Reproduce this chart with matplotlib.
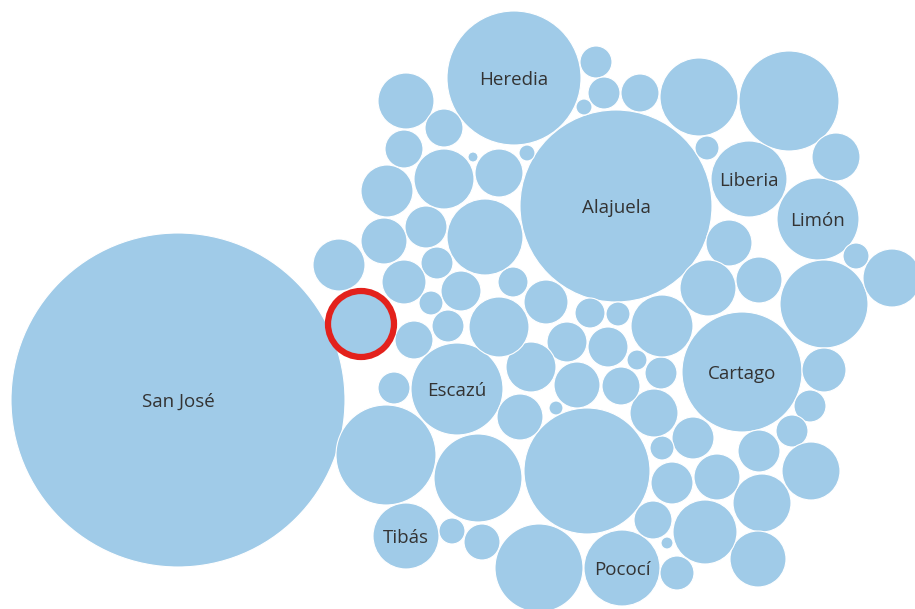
import matplotlib.pyplot as plt
from matplotlib.patches import Circle

# bubble centres and radii, with labels
names = ["San José", "Heredia", "Alajuela", "Cartago", "Liberia", "Limón",
         "Escazú", "Tibás", "Pococí"]
cx = [178, 514, 616, 742, 749, 818, 457, 406, 622,
      587, 699, 789, 836, 824, 892, 856, 824, 810, 792, 811, 759, 762, 758,
      705, 677, 667, 653, 717, 672, 693, 662, 654, 661, 637, 621, 662, 608,
      618, 590, 567, 577, 546, 531, 499, 513, 520, 556, 478, 539, 482, 452,
      386, 394, 414, 448, 461, 431, 437, 404, 384, 339, 361, 485, 426, 387,
      444, 404, 406, 444, 499, 473, 527, 596, 604, 584, 640, 707, 729, 759,
      708]
cy = [400, 78, 206, 372, 179, 219, 389, 536, 568,
      471, 97, 101, 157, 304, 278, 256, 370, 406, 431, 471, 451, 503, 559,
      532, 573, 543, 520, 477, 483, 438, 448, 413, 373, 360, 386, 326, 347,
      314, 313, 342, 385, 302, 367, 327, 282, 417, 408, 478, 568, 542, 531,
      455, 388, 340, 326, 291, 303, 263, 282, 241, 265, 324, 237, 227, 191,
      179, 149, 101, 128, 173, 157, 153, 62, 93, 107, 93, 148, 243, 280,
      288]
radius = [167, 67, 96, 60, 38, 41, 46, 33, 38,
          63, 39, 50, 24, 44, 29, 13, 22, 16, 16, 29, 21, 29, 28,
          32, 17, 6, 19, 23, 21, 21, 12, 24, 16, 10, 19, 31, 20,
          12, 15, 20, 23, 22, 25, 30, 15, 23, 7, 44, 44, 18, 13,
          50, 16, 19, 16, 20, 12, 16, 22, 23, 26, 33, 38, 21, 26,
          30, 19, 28, 19, 24, 5, 8, 16, 16, 8, 19, 12, 23, 23,
          28]
highlight = 61  # bubble circled in red

fig = plt.figure(figsize=(9.15, 6.09), dpi=100)
ax = fig.add_axes([0, 0, 1, 1])
ax.set_xlim(0, 915)
ax.set_ylim(609, 0)
ax.set_aspect("equal")
ax.axis("off")

for i in range(len(cx)):
    ax.add_patch(Circle((cx[i], cy[i]), radius[i], facecolor="#a0cbe8",
                        edgecolor="white", linewidth=0.8))

for i, name in enumerate(names):
    ax.text(cx[i], cy[i] + 2, name, ha="center", va="center", fontsize=13.5,
            color="#333333", family="Open Sans")

ax.add_patch(Circle((cx[highlight], cy[highlight]), radius[highlight],
                    fill=False, edgecolor="#e3211c", linewidth=4.5))

fig.savefig("out.png", dpi=100)
